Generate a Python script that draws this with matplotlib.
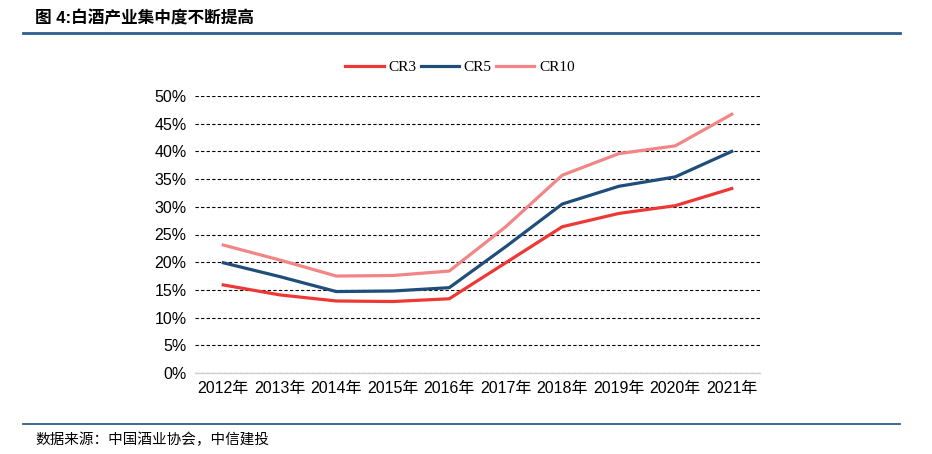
import matplotlib
matplotlib.use('Agg')
import matplotlib.pyplot as plt
from matplotlib.lines import Line2D

plt.rcParams['font.family'] = ['Liberation Sans', 'Noto Sans CJK SC', 'DejaVu Sans']

years = ['2012年', '2013年', '2014年', '2015年', '2016年',
         '2017年', '2018年', '2019年', '2020年', '2021年']
cr3 = [15.9, 14.1, 13.0, 12.9, 13.4, 19.9, 26.4, 28.8, 30.2, 33.3]
cr5 = [19.9, 17.4, 14.7, 14.8, 15.4, 22.8, 30.5, 33.7, 35.4, 40.0]
cr10 = [23.1, 20.4, 17.5, 17.6, 18.4, 26.4, 35.7, 39.6, 41.0, 46.7]
yticks = [0, 5, 10, 15, 20, 25, 30, 35, 40, 45, 50]

c_cr3 = '#EE3835'
c_cr5 = '#1F4E7A'
c_cr10 = '#F28585'
c_bar = '#2E5E8E'

fig = plt.figure(figsize=(9.32, 4.54), dpi=100)
ax = fig.add_axes([195/932, 1-373/454, 565/932, 277/454])

x = list(range(len(years)))
l3, = ax.plot(x, cr3, color=c_cr3, lw=2.3, label='CR3')
l5, = ax.plot(x, cr5, color=c_cr5, lw=2.3, label='CR5')
l10, = ax.plot(x, cr10, color=c_cr10, lw=2.3, label='CR10')

ax.set_xlim(-0.5, 9.5)
ax.set_ylim(0, 50)
ax.set_yticks(yticks)
ax.set_yticklabels([f'{v}%' for v in yticks], fontsize=11.5)
ax.set_xticks(x)
ax.set_xticklabels(years, fontsize=11.5)
ax.set_axisbelow(True)
ax.yaxis.grid(True, color='black', lw=0.8, ls=(0, (3, 2)))
for s in ['top', 'right', 'left']:
    ax.spines[s].set_visible(False)
ax.spines['bottom'].set_color('#D0D0D0')
ax.spines['bottom'].set_linewidth(1.0)
ax.spines['bottom'].set_zorder(3)
ax.tick_params(length=0, pad=6)

fig.legend(handles=[l3, l5, l10], loc='center', bbox_to_anchor=(460/932, 1-67/454),
           ncol=3, frameon=False, handlelength=2.5, columnspacing=0.3, handletextpad=0.3,
           prop={'family': ['Liberation Serif', 'DejaVu Serif'], 'size': 11})

# title and rules
fig.text(35/932, 1-18/454, '图 4:白酒产业集中度不断提高', fontsize=12, fontweight='bold',
         va='center', ha='left', family=['Liberation Sans', 'Noto Sans CJK SC'])
fig.add_artist(Line2D([23/932, 900/932], [1-33/454, 1-33/454], color=c_bar, lw=2))
fig.add_artist(Line2D([23/932, 900/932], [1-424/454, 1-424/454], color=c_bar, lw=1.3))
fig.text(35/932, 1-440/454, '数据来源：中国酒业协会，中信建投', fontsize=10.5, style='italic',
         va='center', ha='left', family=['Noto Sans CJK SC'])

fig.savefig('out.png', dpi=100)
